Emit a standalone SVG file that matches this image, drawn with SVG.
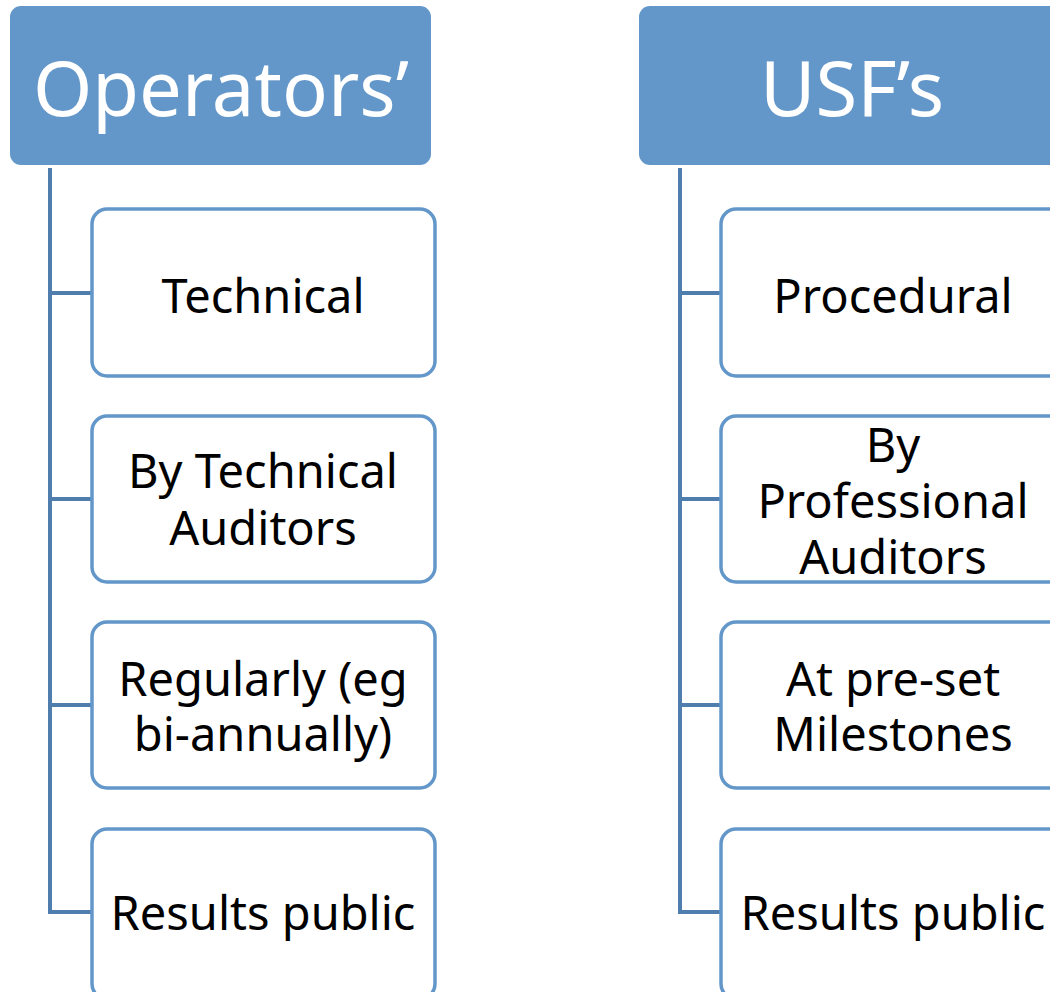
<svg xmlns="http://www.w3.org/2000/svg" width="1050" height="992" viewBox="0 0 1050 992">
<style>
.hdr{fill:#6397c9}
.hdrt{fill:#ffffff;font-family:"Noto Sans","Liberation Sans",sans-serif;font-size:76px;text-anchor:middle}
.box{fill:#ffffff;stroke:#6397c9;stroke-width:3.5}
.t{fill:#000000;font-family:"Noto Sans","Liberation Sans",sans-serif;font-size:47px;text-anchor:middle}
.c{fill:none;stroke:#4f7eae;stroke-width:4}
</style>
<rect width="1050" height="992" fill="#ffffff"/>
<g id="connectors">
<path class="c" d="M50,168 V912 H92 M50,293 H92 M50,499 H92 M50,705 H92"/>
<path class="c" d="M680,168 V912 H721 M680,293 H721 M680,499 H721 M680,705 H721"/>
</g>
<g id="hdr-operators">
<rect class="hdr" x="10" y="6" width="421" height="159" rx="11"/>
<text class="hdrt" x="221" y="116">Operators’</text>
</g>
<g id="hdr-usf">
<rect class="hdr" x="639" y="6" width="425" height="159" rx="11"/>
<text class="hdrt" x="852" y="116">USF’s</text>
</g>
<g id="op-technical">
<rect class="box" x="92" y="209" width="343" height="167" rx="15"/>
<text class="t" x="263" y="313">Technical</text>
</g>
<g id="op-auditors">
<rect class="box" x="92" y="416" width="343" height="166" rx="15"/>
<text class="t" x="263" y="488">By Technical</text>
<text class="t" x="263" y="545">Auditors</text>
</g>
<g id="op-regularly">
<rect class="box" x="92" y="622" width="343" height="166" rx="15"/>
<text class="t" x="263" y="696">Regularly (eg</text>
<text class="t" x="263" y="751">bi-annually)</text>
</g>
<g id="op-results">
<rect class="box" x="92" y="829" width="343" height="170" rx="15"/>
<text class="t" x="263" y="930">Results public</text>
</g>
<g id="usf-procedural">
<rect class="box" x="721" y="209" width="343" height="167" rx="15"/>
<text class="t" x="893" y="313">Procedural</text>
</g>
<g id="usf-auditors">
<rect class="box" x="721" y="416" width="343" height="166" rx="15"/>
<text class="t" x="893" y="462">By</text>
<text class="t" x="893" y="518">Professional</text>
<text class="t" x="893" y="574">Auditors</text>
</g>
<g id="usf-milestones">
<rect class="box" x="721" y="622" width="343" height="166" rx="15"/>
<text class="t" x="893" y="696">At pre-set</text>
<text class="t" x="893" y="751">Milestones</text>
</g>
<g id="usf-results">
<rect class="box" x="721" y="829" width="343" height="170" rx="15"/>
<text class="t" x="893" y="930">Results public</text>
</g>
</svg>
